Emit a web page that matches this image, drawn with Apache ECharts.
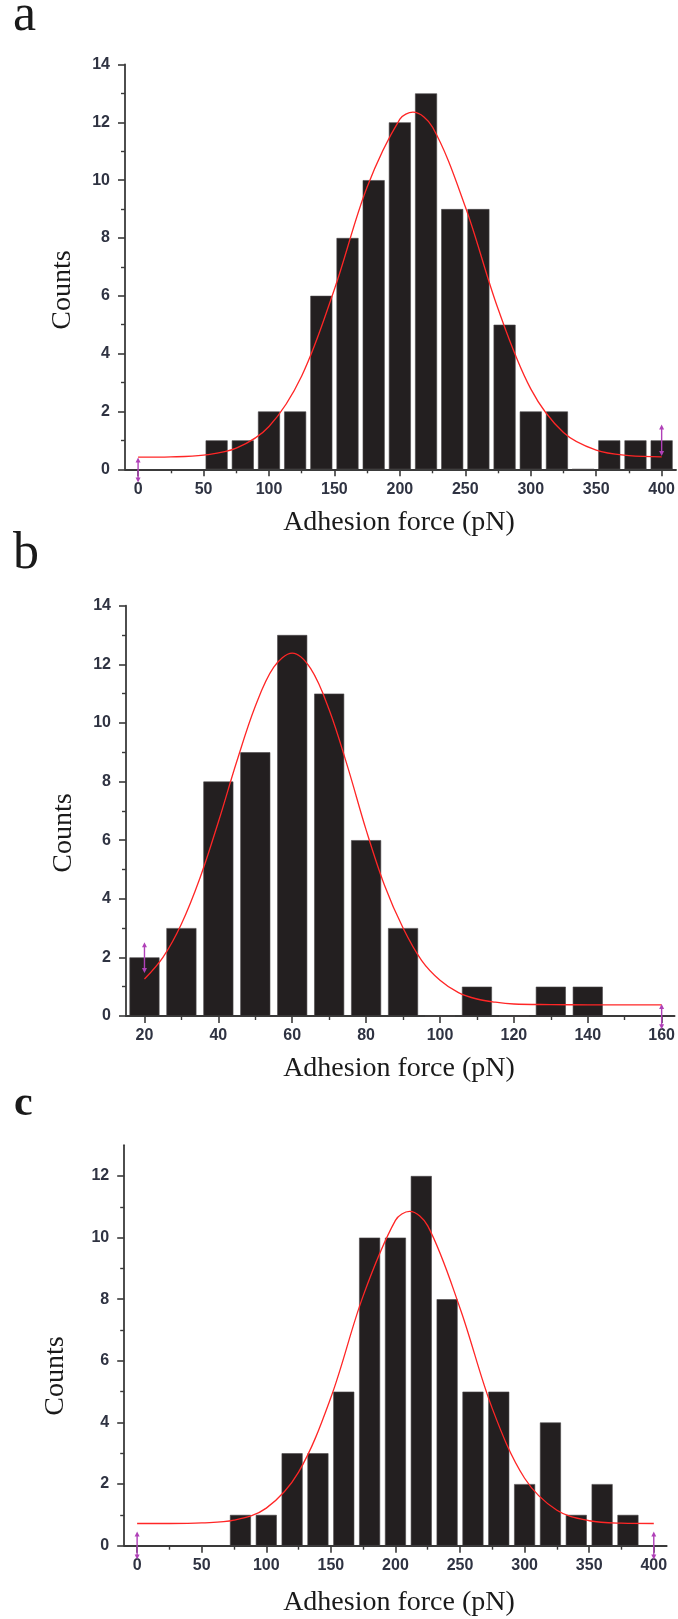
<!DOCTYPE html>
<html>
<head>
<meta charset="utf-8">
<script src="https://cdn.jsdelivr.net/npm/echarts@6/dist/echarts.min.js"></script>
<style>
html,body{margin:0;padding:0;background:#fff}
#chart{width:678px;height:1619px}
</style>
</head>
<body>
<div id="chart"></div>
<script>
// panel a
var binsA = [60,80,100,120,140,160,180,200,220,240,260,280,300,320,340,360,380,400];
var countsA = [1,1,2,2,6,8,10,12,13,9,9,5,2,2,0,1,1,1];
var fitXA = [0,25,50,75,100,125,150,175,200,210,225,250,275,300,325,350,375,400];
var fitYA = [0.42,0.43,0.49,0.73,1.48,3.23,6.23,9.76,12.11,12.35,11.83,9.08,5.55,2.78,1.27,0.66,0.47,0.43];
var markA = [[0,-0.37,0.32],[400,0.55,1.46]];
var xTicksA = [0,50,100,150,200,250,300,350,400];
var xMinorA = [25,75,125,175,225,275,325,375];

// panel b
var binsB = [20,30,40,50,60,70,80,90,100,110,120,130,140];
var countsB = [2,3,8,9,13,11,6,3,0,1,0,1,1];
var fitXB = [20,25,30,35,40,45,50,55,60,65,70,75,80,85,90,95,100,105,110,115,120,130,140,150,160];
var fitYB = [1.26,2.0,3.14,4.7,6.62,8.69,10.57,11.9,12.38,11.85,10.45,8.5,6.35,4.45,3.0,1.9,1.22,0.8,0.58,0.47,0.41,0.39,0.38,0.38,0.38];
var markB = [[20,1.55,2.43],[160,-0.37,0.32]];
var xTicksB = [20,40,60,80,100,120,140,160];
var xMinorB = [30,50,70,90,110,130,150];

// panel c
var binsC = [80,100,120,140,160,180,200,220,240,260,280,300,320,340,360,380];
var countsC = [1,1,3,3,5,10,10,12,8,5,5,2,4,1,2,1];
var fitXC = [0,25,50,75,100,125,150,175,200,211,225,250,275,300,325,350,375,400];
var fitYC = [0.72,0.72,0.74,0.83,1.22,2.39,4.81,8.11,10.56,10.85,10.38,7.71,4.45,2.19,1.15,0.81,0.73,0.72];
var markC = [[0,-0.37,0.38],[400,-0.37,0.38]];
var xTicksC = xTicksA;
var xMinorC = xMinorA;

var yTicks14 = [0,2,4,6,8,10,12,14];
var yMinor14 = [1,3,5,7,9,11,13];
var yTicks13 = [0,2,4,6,8,10,12];
var yMinor13 = [1,3,5,7,9,11];

var chart = echarts.init(document.getElementById('chart'), null, {renderer: 'canvas'});

var axisColor = '#3a3a3a';
var labelStyle = {
  fontFamily: '"Liberation Sans", Arial, sans-serif',
  fontWeight: 'bold',
  fontSize: 16,
  color: '#2f3342'
};

var panels = [
  {grid: {left: 125, top: 64.5, width: 552, height: 404.8}, xmin: -10, xmax: 411, ymax: 14,
   bins: binsA, counts: countsA, fitX: fitXA, fitY: fitYA, marks: markA, barW: 22,
   xt: xTicksA, xm: xMinorA, yt: yTicks14, ym: yMinor14},
  {grid: {left: 126, top: 605.7, width: 552, height: 410.3}, xmin: 15, xmax: 163.5, ymax: 14,
   bins: binsB, counts: countsB, fitX: fitXB, fitY: fitYB, marks: markB, barW: 30,
   xt: xTicksB, xm: xMinorB, yt: yTicks14, ym: yMinor14},
  {grid: {left: 124.2, top: 1145.2, width: 542.5, height: 400.5}, xmin: -10, xmax: 410, ymax: 13,
   bins: binsC, counts: countsC, fitX: fitXC, fitY: fitYC, marks: markC, barW: 21,
   xt: xTicksC, xm: xMinorC, yt: yTicks13, ym: yMinor13}
];

var grids = [], xAxes = [], yAxes = [], series = [];

panels.forEach(function (p, i) {
  grids.push(p.grid);
  // main x axis
  xAxes.push({
    type: 'value', gridIndex: i, min: p.xmin, max: p.xmax, position: 'bottom',
    axisLine: {show: true, onZero: false, lineStyle: {color: axisColor, width: 1.8}},
    axisTick: {show: true, length: 7, customValues: p.xt, lineStyle: {color: axisColor, width: 1.6}},
    axisLabel: Object.assign({show: true, margin: 12, customValues: p.xt}, labelStyle),
    splitLine: {show: false}
  });
  // minor ticks x
  xAxes.push({
    type: 'value', gridIndex: i, min: p.xmin, max: p.xmax, position: 'bottom',
    axisLine: {show: false, onZero: false},
    axisTick: {show: true, length: 4, customValues: p.xm, lineStyle: {color: axisColor, width: 1.4}},
    axisLabel: {show: false},
    splitLine: {show: false}
  });
  yAxes.push({
    type: 'value', gridIndex: i, min: 0, max: p.ymax, position: 'left',
    axisLine: {show: true, onZero: false, lineStyle: {color: axisColor, width: 1.8}},
    axisTick: {show: true, length: 7, customValues: p.yt, lineStyle: {color: axisColor, width: 1.6}},
    axisLabel: Object.assign({show: true, margin: 15, customValues: p.yt}, labelStyle),
    splitLine: {show: false}
  });
  yAxes.push({
    type: 'value', gridIndex: i, min: 0, max: p.ymax, position: 'left',
    axisLine: {show: false, onZero: false},
    axisTick: {show: true, length: 4, customValues: p.ym, lineStyle: {color: axisColor, width: 1.4}},
    axisLabel: {show: false},
    splitLine: {show: false}
  });

  series.push({
    type: 'bar', xAxisIndex: 2 * i, yAxisIndex: 2 * i,
    barWidth: p.barW,
    itemStyle: {color: '#231f20', borderColor: '#4a4748', borderWidth: 0.6},
    data: p.bins.map(function (b, k) { return [b, p.counts[k]]; }),
    silent: true
  });
  series.push({
    type: 'line', xAxisIndex: 2 * i, yAxisIndex: 2 * i,
    smooth: 0.35, showSymbol: false, z: 5,
    lineStyle: {color: '#ff2626', width: 1.3},
    data: p.fitX.map(function (x, k) { return [x, p.fitY[k]]; }),
    silent: true
  });
  p.marks.forEach(function (m) {
    series.push({
      type: 'line', xAxisIndex: 2 * i, yAxisIndex: 2 * i, clip: false, z: 6,
      lineStyle: {color: '#b040b8', width: 1.4},
      itemStyle: {color: '#b040b8'},
      symbolSize: 5,
      data: [
        {value: [m[0], m[1]], symbol: 'triangle', symbolRotate: 180},
        {value: [m[0], m[2]], symbol: 'triangle'}
      ],
      silent: true
    });
  });
});

var serif = '"Liberation Serif", "Times New Roman", serif';
var texts = [
  {x: 13, y: 16, rot: 0, text: 'a', font: '52px ' + serif, align: 'left'},
  {x: 13, y: 554, rot: 0, text: 'b', font: '52px ' + serif, align: 'left'},
  {x: 14, y: 1104, rot: 0, text: 'c', font: 'bold 42px ' + serif, align: 'left'},
  {x: 399, y: 522.5, rot: 0, text: 'Adhesion force (pN)', font: '28px ' + serif, align: 'center'},
  {x: 399, y: 1069, rot: 0, text: 'Adhesion force (pN)', font: '28px ' + serif, align: 'center'},
  {x: 399, y: 1602.5, rot: 0, text: 'Adhesion force (pN)', font: '28px ' + serif, align: 'center'},
  {x: 63, y: 290, rot: Math.PI / 2, text: 'Counts', font: '28px ' + serif, align: 'center'},
  {x: 64, y: 833, rot: Math.PI / 2, text: 'Counts', font: '28px ' + serif, align: 'center'},
  {x: 56, y: 1376, rot: Math.PI / 2, text: 'Counts', font: '28px ' + serif, align: 'center'}
];

chart.setOption({
  animation: false,
  backgroundColor: '#ffffff',
  grid: grids,
  xAxis: xAxes,
  yAxis: yAxes,
  series: series,
  graphic: texts.map(function (t) {
    return {
      type: 'text', x: t.x, y: t.y, rotation: t.rot, silent: true,
      style: {text: t.text, font: t.font, fill: '#1a1a1a', align: t.align, verticalAlign: 'middle'}
    };
  })
});
</script>
</body>
</html>
